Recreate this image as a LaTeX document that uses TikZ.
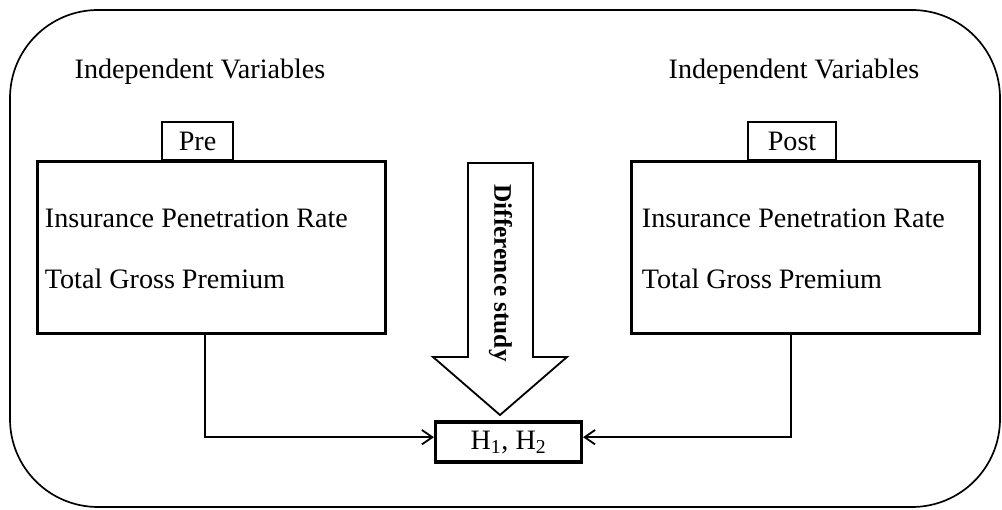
\documentclass[tikz,border=0pt]{standalone}
\usepackage{fontspec}
\setmainfont{Liberation Serif}
\usepackage{tikz}
\usetikzlibrary{calc,arrows.meta}
\newcommand{\labfont}{\fontsize{20}{24}\selectfont}
\tikzset{
  frame/.style={draw=black, line width=1.2pt, rounded corners=2.2cm},
  varbox/.style={draw=black, line width=2.6pt, minimum width=8.7cm, minimum height=4.3cm, inner sep=0pt},
  tabbox/.style={draw=black, line width=1.5pt, fill=white, minimum height=0.95cm, inner sep=0pt, font=\labfont},
  hypbox/.style={draw=black, line width=2.2pt, minimum width=3.65cm, minimum height=1cm, inner sep=0pt, font=\labfont},
  txt/.style={inner sep=0pt, font=\labfont},
  conn/.style={draw=black, line width=1.3pt, -{Straight Barb[length=2.6mm,width=3.6mm]}},
  fatarrow/.style={draw=black, line width=1.3pt, line join=miter, fill=white},
}

\begin{document}
\begin{tikzpicture}[x=0.025cm, y=-0.025cm]
  \useasboundingbox (0,0) rectangle (1002,510);
  \draw[frame] (10,10) rectangle (1000,507);

  % headers
  \node[txt] (lefthead) at (200,72) {Independent Variables};
  \node[txt] (righthead) at (794,72) {Independent Variables};

  % pre and post boxes
  \node[tabbox, minimum width=1.775cm, anchor=south west] (pretab) at (161,161) {Pre};
  \node[tabbox, minimum width=2.2cm, anchor=south west] (posttab) at (747,161) {Post};
  \node[varbox] (prebox) at (211.5,247.5) {};
  \node[varbox] (postbox) at (805.5,247.5) {};
  \node[txt, anchor=west] (prerate) at ($(prebox.north west)+(9,59)$) {Insurance Penetration Rate};
  \node[txt, anchor=west] (pregross) at ($(prebox.north west)+(9,119)$) {Total Gross Premium};
  \node[txt, anchor=west] (postrate) at ($(postbox.north west)+(12,59)$) {Insurance Penetration Rate};
  \node[txt, anchor=west] (postgross) at ($(postbox.north west)+(12,119)$) {Total Gross Premium};

  % hypotheses
  \node[hypbox] (hyp) at (508.5,442) {H\textsubscript{1}, H\textsubscript{2}};

  % difference arrow
  \draw[fatarrow] (468,163) -- (533,163) -- (533,357) -- (567,357) -- (500,415)
    -- (433,357) -- (468,357) -- cycle;
  \node[txt, rotate=-90, font=\fontsize{18}{21}\selectfont\bfseries] (diff) at (500.5,273) {Difference study};

  \draw[conn] ([xshift=-0.16cm]prebox.south) |- ([yshift=0.12cm]hyp.west);
  \draw[conn] ([xshift=-0.36cm]postbox.south) |- ([yshift=0.12cm]hyp.east);
\end{tikzpicture}
\end{document}
